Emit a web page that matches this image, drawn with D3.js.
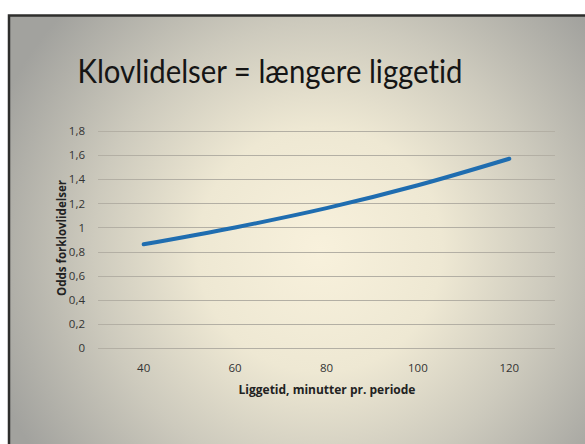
<!DOCTYPE html>
<html>
<head>
<meta charset="utf-8">
<script src="https://cdn.jsdelivr.net/npm/d3@7"></script>
<style>
  html, body { margin: 0; padding: 0; background: #fff; }
  svg { display: block; }
  text { font-variant-ligatures: none; }
</style>
</head>
<body>
<script>
// chart data
const categories = ['40', '60', '80', '100', '120'];
const odds = [0.86, 1.0, 1.16, 1.35, 1.57];
const yTicks = [0, 0.2, 0.4, 0.6, 0.8, 1, 1.2, 1.4, 1.6, 1.8];

const W = 585;
const H = 444;

const svg = d3.select('body')
  .append('svg')
  .attr('width', W)
  .attr('height', H);

// slide background, lighter in the middle like the photo
const defs = svg.append('defs');
const grad = defs.append('radialGradient')
  .attr('id', 'bg')
  .attr('gradientUnits', 'userSpaceOnUse')
  .attr('cx', 320).attr('cy', 250).attr('r', 350)
  .attr('fx', 320).attr('fy', 250);
grad.append('stop').attr('offset', '0%').attr('stop-color', '#f8f1dc');
grad.append('stop').attr('offset', '35%').attr('stop-color', '#eee8d3');
grad.append('stop').attr('offset', '65%').attr('stop-color', '#cdcabd');
grad.append('stop').attr('offset', '100%').attr('stop-color', '#a2a29e');

svg.append('rect')
  .attr('x', 9).attr('y', 15)
  .attr('width', W - 9).attr('height', H - 15)
  .attr('fill', 'url(#bg)');

// dark slide edge (top + left)
svg.append('path')
  .attr('d', `M9,${H} L9,15.5 L${W},15.5`)
  .attr('fill', 'none')
  .attr('stroke', '#2e2e2c')
  .attr('stroke-width', 2.5);

// title
svg.append('text')
  .attr('x', 270)
  .attr('y', 83)
  .attr('text-anchor', 'middle')
  .attr('textLength', 385)
  .attr('lengthAdjust', 'spacingAndGlyphs')
  .style('font-family', 'Lato, sans-serif')
  .style('font-size', '32px')
  .style('fill', '#151515')
  .text('Klovlidelser = længere liggetid');

// plot area
const margin = { top: 131, right: 30, bottom: 96, left: 98 };
const width = W - margin.left - margin.right;
const height = H - margin.top - margin.bottom;

const g = svg.append('g')
  .attr('transform', `translate(${margin.left},${margin.top})`);

const x = d3.scaleBand()
  .domain(categories)
  .range([0, width]);

const y = d3.scaleLinear()
  .domain([0, 1.8])
  .range([height, 0]);

const fmt = d => String(d).replace('.', ',');

// gridlines
g.append('g')
  .selectAll('line')
  .data(yTicks)
  .enter()
  .append('line')
  .attr('x1', 0)
  .attr('x2', width)
  .attr('y1', d => Math.round(y(d)) + 0.5)
  .attr('y2', d => Math.round(y(d)) + 0.5)
  .attr('stroke', '#b3afa4')
  .attr('stroke-width', 1);

// y axis
const yAxis = g.append('g')
  .attr('transform', 'translate(-10,0)')
  .call(d3.axisLeft(y).tickValues(yTicks).tickFormat(fmt).tickSize(0));
yAxis.select('.domain').remove();
yAxis.selectAll('text')
  .style('font-family', '"Open Sans", sans-serif')
  .style('font-size', '11.5px')
  .style('fill', '#333');

// x axis
const xAxis = g.append('g')
  .attr('transform', `translate(0,${height + 13})`)
  .call(d3.axisBottom(x).tickSize(0));
xAxis.select('.domain').remove();
xAxis.selectAll('text')
  .style('font-family', '"Open Sans", sans-serif')
  .style('font-size', '11.5px')
  .style('fill', '#333');

// axis titles
svg.append('text')
  .attr('x', 327)
  .attr('y', 394)
  .attr('text-anchor', 'middle')
  .style('font-family', '"Open Sans", sans-serif')
  .style('font-size', '12px')
  .style('font-weight', 'bold')
  .style('fill', '#222')
  .text('Liggetid, minutter pr. periode');

svg.append('text')
  .attr('transform', 'translate(66,238) rotate(-90)')
  .attr('text-anchor', 'middle')
  .style('font-family', '"Open Sans", sans-serif')
  .style('font-size', '11.5px')
  .style('font-weight', 'bold')
  .style('fill', '#222')
  .text('Odds forklovlidelser');

// the line
const line = d3.line()
  .x((d, i) => x(categories[i]) + x.bandwidth() / 2)
  .y(d => y(d))
  .curve(d3.curveMonotoneX);

g.append('path')
  .datum(odds)
  .attr('d', line)
  .attr('fill', 'none')
  .attr('stroke', '#1f6db0')
  .attr('stroke-width', 4)
  .attr('stroke-linecap', 'round');
</script>
</body>
</html>
